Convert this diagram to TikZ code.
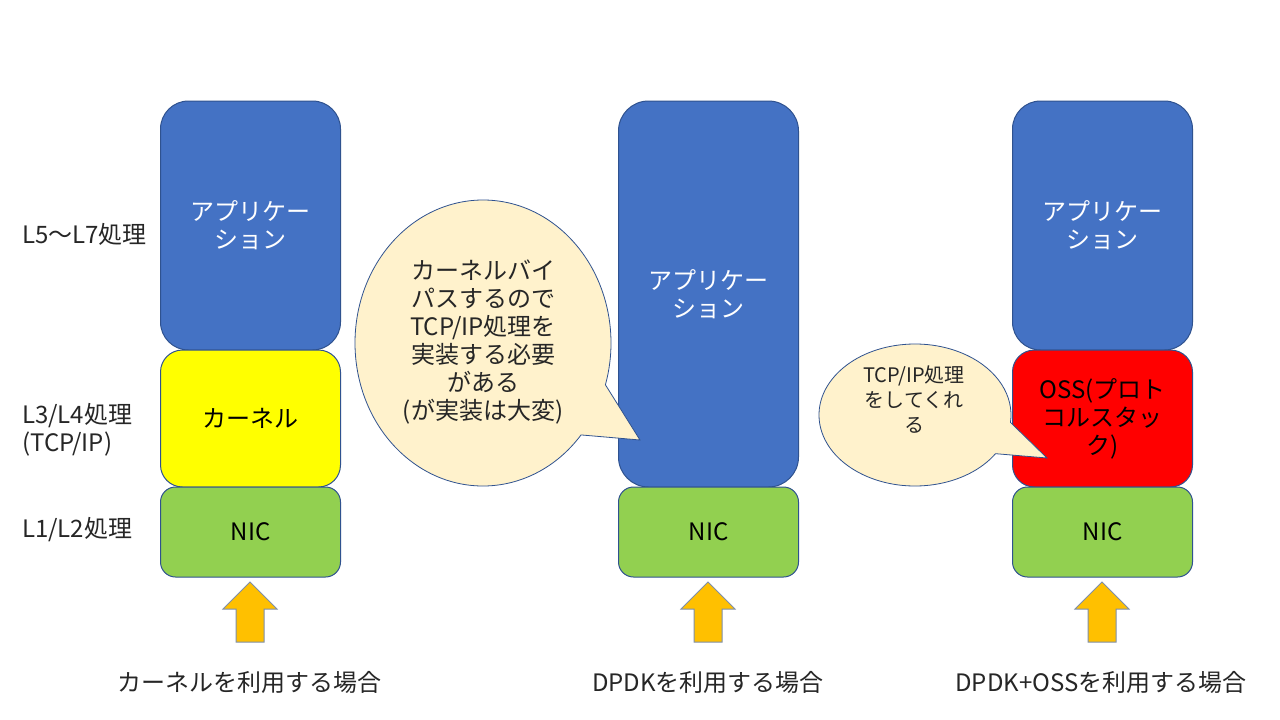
\documentclass[tikz,border=0pt]{standalone}
\usepackage{fontspec}
\setmainfont{Noto Sans CJK JP}
\usetikzlibrary{shapes.geometric}
\definecolor{appblue}{HTML}{4472C4}
\definecolor{edgeblue}{HTML}{2F528F}
\definecolor{kyellow}{HTML}{FFFF00}
\definecolor{ossred}{HTML}{FF0000}
\definecolor{nicgreen}{HTML}{92D050}
\definecolor{arrowgold}{HTML}{FFC000}
\definecolor{arrowedge}{HTML}{7F8FA9}
\definecolor{bubblefill}{HTML}{FFF2CC}
\definecolor{txtgray}{HTML}{262626}
\tikzset{
  layerbox/.style={draw=edgeblue, line width=1pt, minimum width=180pt, align=center, inner sep=2pt,
     font=\fontsize{24}{28}\selectfont},
  appbox/.style={layerbox, fill=appblue, text=white, rounded corners=28pt},
  kernbox/.style={layerbox, fill=kyellow, text=black, rounded corners=22pt, minimum height=137pt},
  ossbox/.style={layerbox, fill=ossred, text=black, rounded corners=22pt, minimum height=137pt},
  nicbox/.style={layerbox, fill=nicgreen, text=black, rounded corners=15pt, minimum height=90pt},
  uparrow/.style={fill=arrowgold, draw=arrowedge, line width=1pt, line join=miter},
  bubble/.style={fill=bubblefill, draw=edgeblue, line width=0.8pt},
  lbl/.style={font=\fontsize{24}{28}\selectfont, text=txtgray, align=left, inner sep=0pt},
  caption/.style={font=\fontsize{24}{28}\selectfont, text=txtgray, inner sep=0pt},
  btext/.style={font=\fontsize{24}{28}\selectfont, text=txtgray, align=center, inner sep=0pt},
  stext/.style={font=\fontsize{20}{25}\selectfont, text=txtgray, align=center, inner sep=0pt},
}
\begin{document}
\begin{tikzpicture}[x=1pt,y=-1pt]
\useasboundingbox[fill=white] (0,0) rectangle (1280,720);

% column 1: kernel
\node[appbox, minimum height=249pt] (app1) at (250.5,225.5) {アプリケー\\ション};
\node[kernbox] (kern1) at (250.5,418.5) {カーネル};
\node[nicbox] (nic1) at (250.5,532) {NIC};

% column 2: DPDK
\node[appbox, minimum height=386pt, rounded corners=30pt] (app2) at (708.5,294) {アプリケー\\ション};
\node[nicbox] (nic2) at (708.5,532) {NIC};

% column 3: DPDK+OSS
\node[appbox, minimum height=249pt] (app3) at (1102.5,225.5) {アプリケー\\ション};
\node[ossbox] (oss3) at (1102.5,418.5) {OSS(プロト\\コルスタッ\\ク)};
\node[nicbox] (nic3) at (1102.5,532) {NIC};

% arrows
\foreach \cx/\nm in {250/ar1,708/ar2,1102/ar3}{
  \draw[uparrow] (\cx,582) -- (\cx+27,609) -- (\cx+14,609) -- (\cx+14,642)
     -- (\cx-14,642) -- (\cx-14,609) -- (\cx-27,609) -- cycle;
}

% left labels
\node[lbl, anchor=west] (l57) at (22,234) {L5〜L7処理};
\node[lbl, anchor=west] (l34) at (22,430) {L3/L4処理\\(TCP/IP)};
\node[lbl, anchor=west] (l12) at (22,530) {L1/L2処理};

% captions
\node[caption] (cap1) at (249,682) {カーネルを利用する場合};
\node[caption] (cap2) at (708,682) {DPDKを利用する場合};
\node[caption] (cap3) at (1101,682) {DPDK+OSSを利用する場合};

% bubble 1
\coordinate (b1c) at (483,343);
\coordinate (b1tip) at (640,440);
\path[bubble] (b1c) ++(40:128 and 143)
  arc[start angle=40, end angle=377, x radius=128, y radius=143] -- (b1tip) -- cycle;
\node[btext] (b1t) at (483,342) {カーネルバイ\\パスするので\\TCP/IP処理を\\実装する必要\\がある\\(が実装は大変)};

% bubble 2
\coordinate (b2c) at (915,415);
\coordinate (b2tip) at (1047,458);
\path[bubble] (b2c) ++(33:96 and 71)
  arc[start angle=33, end angle=366, x radius=96, y radius=71] -- (b2tip) -- cycle;
\node[stext] (b2t) at (914,400) {TCP/IP処理\\をしてくれ\\る};
\end{tikzpicture}
\end{document}
